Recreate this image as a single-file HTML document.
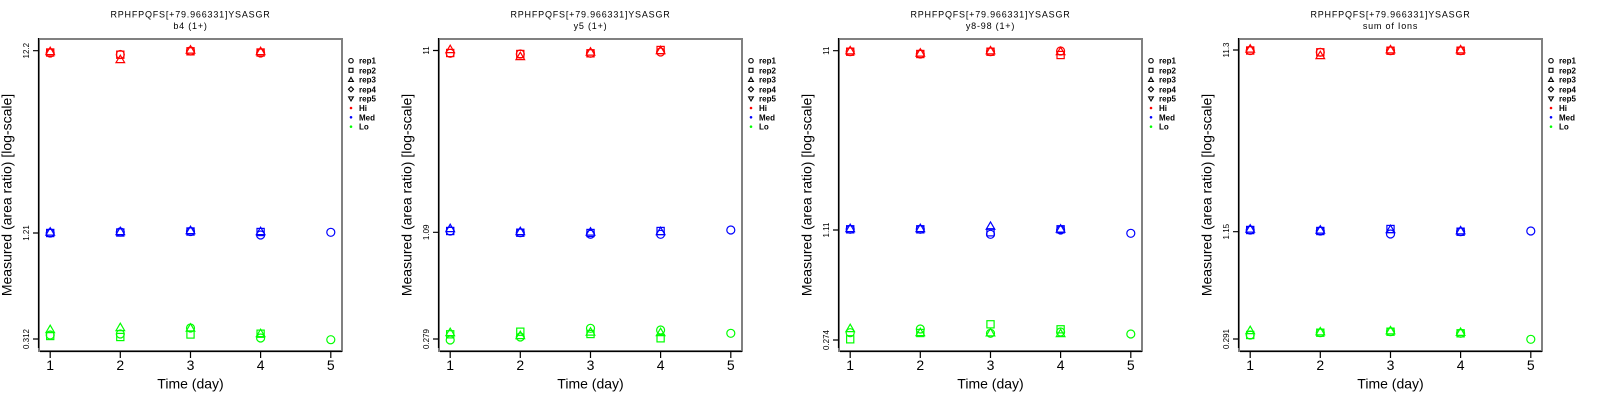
<!DOCTYPE html>
<html><head><meta charset="utf-8"><style>
html,body{margin:0;padding:0;background:#fff;}
svg{display:block;}
.t{font-family:"Liberation Sans",sans-serif;font-size:9px;letter-spacing:0.8px;text-anchor:middle;fill:#000;}
.yt{font-family:"Liberation Sans",sans-serif;font-size:8px;text-anchor:middle;fill:#000;}
.xt{font-family:"Liberation Sans",sans-serif;font-size:14px;text-anchor:middle;fill:#000;}
.xl{font-family:"Liberation Sans",sans-serif;font-size:14px;text-anchor:middle;fill:#000;}
.lg{font-family:"Liberation Sans",sans-serif;font-size:8px;font-weight:bold;fill:#000;}
</style></head><body>
<svg width="1600" height="400" viewBox="0 0 1600 400" xmlns="http://www.w3.org/2000/svg" xmlns:xlink="http://www.w3.org/1999/xlink">
<defs>
<circle id="c" r="4"/>
<rect id="s" x="-3.6" y="-3.6" width="7.2" height="7.2"/>
<path id="t" d="M0,-4.8 L4.3,2.6 L-4.3,2.6 Z"/>
<path id="d" d="M0,-4.6 L4.6,0 L0,4.6 L-4.6,0 Z"/>
<path id="v" d="M0,4.8 L4.3,-2.6 L-4.3,-2.6 Z"/>
<g id="frame">
<rect x="39" y="39" width="303" height="312" fill="none" stroke="#808080" stroke-width="2"/>
<line x1="38.5" y1="38" x2="38.5" y2="348" stroke="#000" stroke-width="1.2"/>
<line x1="40" y1="351.5" x2="342" y2="351.5" stroke="#000" stroke-width="1.2"/>
<path d="M50.2,351.5V358 M120.3,351.5V358 M190.5,351.5V358 M260.6,351.5V358 M330.8,351.5V358" stroke="#000" stroke-width="1.2"/>
<text x="50.2" y="370" class="xt">1</text>
<text x="120.3" y="370" class="xt">2</text>
<text x="190.5" y="370" class="xt">3</text>
<text x="260.6" y="370" class="xt">4</text>
<text x="330.8" y="370" class="xt">5</text>
<text x="190.5" y="388.5" class="xl">Time (day)</text>
<text transform="translate(11.5,195) rotate(-90)" class="xl">Measured (area ratio) [log-scale]</text>
<g fill="none" stroke="#000" stroke-width="2">
<use xlink:href="#c" transform="translate(351,60.7) scale(0.55)"/>
<use xlink:href="#s" transform="translate(351,70.3) scale(0.55)"/>
<use xlink:href="#t" transform="translate(351,80) scale(0.55)"/>
<use xlink:href="#d" transform="translate(351,89.3) scale(0.55)"/>
<use xlink:href="#v" transform="translate(351,98.3) scale(0.55)"/>
</g>
<circle cx="351" cy="108" r="1.3" fill="#ff0000"/>
<circle cx="351" cy="117.3" r="1.3" fill="#0000ff"/>
<circle cx="351" cy="126.7" r="1.3" fill="#00ff00"/>
<text x="359" y="63.7" class="lg">rep1</text>
<text x="359" y="73.3" class="lg">rep2</text>
<text x="359" y="82.3" class="lg">rep3</text>
<text x="359" y="92.3" class="lg">rep4</text>
<text x="359" y="101.7" class="lg">rep5</text>
<text x="359" y="111" class="lg">Hi</text>
<text x="359" y="120.3" class="lg">Med</text>
<text x="359" y="129.7" class="lg">Lo</text>
</g>
</defs>

<!-- Panel 1 -->
<g transform="translate(0,0)">
<use xlink:href="#frame"/>
<text x="190.5" y="17.5" class="t">RPHFPQFS[+79.966331]YSASGR</text>
<text x="190.5" y="29" class="t">b4 (1+)</text>
<path d="M33,50.7H38.5 M33,233H38.5 M33,339H38.5" stroke="#000" stroke-width="1.2"/>
<text transform="translate(29,50.7) rotate(-90)" class="yt">12.2</text>
<text transform="translate(29,233) rotate(-90)" class="yt">1.21</text>
<text transform="translate(29,339) rotate(-90)" class="yt">0.312</text>
<g fill="none" stroke="#ff0000" stroke-width="1.2">
<use xlink:href="#c" x="50.2" y="53"/><use xlink:href="#s" x="50.2" y="52.5"/><use xlink:href="#t" x="50.2" y="52"/>
<use xlink:href="#c" x="120.3" y="54.5"/><use xlink:href="#s" x="120.3" y="54.7"/><use xlink:href="#t" x="120.3" y="60"/>
<use xlink:href="#c" x="190.5" y="51"/><use xlink:href="#s" x="190.5" y="51.3"/><use xlink:href="#t" x="190.5" y="50.5"/>
<use xlink:href="#c" x="260.6" y="53"/><use xlink:href="#s" x="260.6" y="52.5"/><use xlink:href="#t" x="260.6" y="52"/>
</g>
<g fill="none" stroke="#0000ff" stroke-width="1.2">
<use xlink:href="#c" x="50.2" y="233"/><use xlink:href="#s" x="50.2" y="233"/><use xlink:href="#t" x="50.2" y="232.5"/>
<use xlink:href="#c" x="120.3" y="232"/><use xlink:href="#s" x="120.3" y="232.5"/><use xlink:href="#t" x="120.3" y="232"/>
<use xlink:href="#c" x="190.5" y="231.5"/><use xlink:href="#s" x="190.5" y="231.5"/><use xlink:href="#t" x="190.5" y="231"/>
<use xlink:href="#c" x="260.6" y="235"/><use xlink:href="#s" x="260.6" y="232"/><use xlink:href="#t" x="260.6" y="232"/>
<use xlink:href="#c" x="330.8" y="232.3"/>
</g>
<g fill="none" stroke="#00ff00" stroke-width="1.2">
<use xlink:href="#c" x="50.2" y="335"/><use xlink:href="#s" x="50.2" y="336"/><use xlink:href="#t" x="50.2" y="330"/>
<use xlink:href="#c" x="120.3" y="334"/><use xlink:href="#s" x="120.3" y="337"/><use xlink:href="#t" x="120.3" y="328"/>
<use xlink:href="#c" x="190.5" y="328"/><use xlink:href="#s" x="190.5" y="334.5"/><use xlink:href="#t" x="190.5" y="328.5"/>
<use xlink:href="#c" x="260.6" y="338"/><use xlink:href="#s" x="260.6" y="333.7"/><use xlink:href="#t" x="260.6" y="334"/>
<use xlink:href="#c" x="330.8" y="339.7"/>
</g>
</g>

<!-- Panel 2 -->
<g transform="translate(400,0)">
<use xlink:href="#frame"/>
<text x="190.5" y="17.5" class="t">RPHFPQFS[+79.966331]YSASGR</text>
<text x="190.5" y="29" class="t">y5 (1+)</text>
<path d="M33,50.5H38.5 M33,232.3H38.5 M33,339H38.5" stroke="#000" stroke-width="1.2"/>
<text transform="translate(29,50.5) rotate(-90)" class="yt">11</text>
<text transform="translate(29,232.3) rotate(-90)" class="yt">1.09</text>
<text transform="translate(29,339) rotate(-90)" class="yt">0.279</text>
<g fill="none" stroke="#ff0000" stroke-width="1.2">
<use xlink:href="#c" x="50.2" y="53.3"/><use xlink:href="#s" x="50.2" y="53"/><use xlink:href="#t" x="50.2" y="50"/>
<use xlink:href="#c" x="120.3" y="54"/><use xlink:href="#s" x="120.3" y="54"/><use xlink:href="#t" x="120.3" y="57"/>
<use xlink:href="#c" x="190.5" y="53.3"/><use xlink:href="#s" x="190.5" y="53.3"/><use xlink:href="#t" x="190.5" y="52.5"/>
<use xlink:href="#c" x="260.6" y="52"/><use xlink:href="#s" x="260.6" y="50"/><use xlink:href="#t" x="260.6" y="51"/>
</g>
<g fill="none" stroke="#0000ff" stroke-width="1.2">
<use xlink:href="#c" x="50.2" y="231"/><use xlink:href="#s" x="50.2" y="231"/><use xlink:href="#t" x="50.2" y="229"/>
<use xlink:href="#c" x="120.3" y="232.7"/><use xlink:href="#s" x="120.3" y="232.7"/><use xlink:href="#t" x="120.3" y="232"/>
<use xlink:href="#c" x="190.5" y="234.3"/><use xlink:href="#s" x="190.5" y="233"/><use xlink:href="#t" x="190.5" y="232.5"/>
<use xlink:href="#c" x="260.6" y="234.3"/><use xlink:href="#s" x="260.6" y="231"/><use xlink:href="#t" x="260.6" y="232"/>
<use xlink:href="#c" x="330.8" y="230"/>
</g>
<g fill="none" stroke="#00ff00" stroke-width="1.2">
<use xlink:href="#c" x="50.2" y="340"/><use xlink:href="#s" x="50.2" y="334.3"/><use xlink:href="#t" x="50.2" y="333"/>
<use xlink:href="#c" x="120.3" y="337"/><use xlink:href="#s" x="120.3" y="331.7"/><use xlink:href="#t" x="120.3" y="336"/>
<use xlink:href="#c" x="190.5" y="328.3"/><use xlink:href="#s" x="190.5" y="334"/><use xlink:href="#t" x="190.5" y="332.5"/>
<use xlink:href="#c" x="260.6" y="330"/><use xlink:href="#s" x="260.6" y="338.3"/><use xlink:href="#t" x="260.6" y="333"/>
<use xlink:href="#c" x="330.8" y="333.3"/>
</g>
</g>

<!-- Panel 3 -->
<g transform="translate(800,0)">
<use xlink:href="#frame"/>
<text x="190.5" y="17.5" class="t">RPHFPQFS[+79.966331]YSASGR</text>
<text x="190.5" y="29" class="t">y8-98 (1+)</text>
<path d="M33,50.7H38.5 M33,230H38.5 M33,340H38.5" stroke="#000" stroke-width="1.2"/>
<text transform="translate(29,50.7) rotate(-90)" class="yt">11</text>
<text transform="translate(29,230) rotate(-90)" class="yt">1.11</text>
<text transform="translate(29,340) rotate(-90)" class="yt">0.274</text>
<g fill="none" stroke="#ff0000" stroke-width="1.2">
<use xlink:href="#c" x="50.2" y="51.7"/><use xlink:href="#s" x="50.2" y="51.7"/><use xlink:href="#t" x="50.2" y="51.2"/>
<use xlink:href="#c" x="120.3" y="54"/><use xlink:href="#s" x="120.3" y="54"/><use xlink:href="#t" x="120.3" y="53.5"/>
<use xlink:href="#c" x="190.5" y="51.7"/><use xlink:href="#s" x="190.5" y="51.7"/><use xlink:href="#t" x="190.5" y="51.2"/>
<use xlink:href="#c" x="260.6" y="51"/><use xlink:href="#s" x="260.6" y="55"/><use xlink:href="#t" x="260.6" y="52"/>
</g>
<g fill="none" stroke="#0000ff" stroke-width="1.2">
<use xlink:href="#c" x="50.2" y="229.3"/><use xlink:href="#s" x="50.2" y="229.3"/><use xlink:href="#t" x="50.2" y="229"/>
<use xlink:href="#c" x="120.3" y="229.3"/><use xlink:href="#s" x="120.3" y="229.3"/><use xlink:href="#t" x="120.3" y="229"/>
<use xlink:href="#c" x="190.5" y="234.3"/><use xlink:href="#s" x="190.5" y="232.3"/><use xlink:href="#t" x="190.5" y="226.7"/>
<use xlink:href="#c" x="260.6" y="230"/><use xlink:href="#s" x="260.6" y="229.3"/><use xlink:href="#t" x="260.6" y="229.5"/>
<use xlink:href="#c" x="330.8" y="233.3"/>
</g>
<g fill="none" stroke="#00ff00" stroke-width="1.2">
<use xlink:href="#c" x="50.2" y="332.7"/><use xlink:href="#s" x="50.2" y="339.3"/><use xlink:href="#t" x="50.2" y="329"/>
<use xlink:href="#c" x="120.3" y="329"/><use xlink:href="#s" x="120.3" y="333"/><use xlink:href="#t" x="120.3" y="333"/>
<use xlink:href="#c" x="190.5" y="333.3"/><use xlink:href="#s" x="190.5" y="324.3"/><use xlink:href="#t" x="190.5" y="333.3"/>
<use xlink:href="#c" x="260.6" y="332"/><use xlink:href="#s" x="260.6" y="329.3"/><use xlink:href="#t" x="260.6" y="334"/>
<use xlink:href="#c" x="330.8" y="334"/>
</g>
</g>

<!-- Panel 4 -->
<g transform="translate(1200,0)">
<use xlink:href="#frame"/>
<text x="190.5" y="17.5" class="t">RPHFPQFS[+79.966331]YSASGR</text>
<text x="190.5" y="29" class="t">sum of Ions</text>
<path d="M33,50H38.5 M33,231.7H38.5 M33,339H38.5" stroke="#000" stroke-width="1.2"/>
<text transform="translate(29,50) rotate(-90)" class="yt">11.3</text>
<text transform="translate(29,231.7) rotate(-90)" class="yt">1.15</text>
<text transform="translate(29,339) rotate(-90)" class="yt">0.291</text>
<g fill="none" stroke="#ff0000" stroke-width="1.2">
<use xlink:href="#c" x="50.2" y="50.5"/><use xlink:href="#s" x="50.2" y="50.5"/><use xlink:href="#t" x="50.2" y="49.5"/>
<use xlink:href="#c" x="120.3" y="52.3"/><use xlink:href="#s" x="120.3" y="52.3"/><use xlink:href="#t" x="120.3" y="56"/>
<use xlink:href="#c" x="190.5" y="50.7"/><use xlink:href="#s" x="190.5" y="50.7"/><use xlink:href="#t" x="190.5" y="50.2"/>
<use xlink:href="#c" x="260.6" y="50.7"/><use xlink:href="#s" x="260.6" y="50.7"/><use xlink:href="#t" x="260.6" y="50.2"/>
</g>
<g fill="none" stroke="#0000ff" stroke-width="1.2">
<use xlink:href="#c" x="50.2" y="230"/><use xlink:href="#s" x="50.2" y="230"/><use xlink:href="#t" x="50.2" y="229.5"/>
<use xlink:href="#c" x="120.3" y="231"/><use xlink:href="#s" x="120.3" y="231"/><use xlink:href="#t" x="120.3" y="230.5"/>
<use xlink:href="#c" x="190.5" y="234"/><use xlink:href="#s" x="190.5" y="229"/><use xlink:href="#t" x="190.5" y="230"/>
<use xlink:href="#c" x="260.6" y="231.7"/><use xlink:href="#s" x="260.6" y="231.7"/><use xlink:href="#t" x="260.6" y="231.2"/>
<use xlink:href="#c" x="330.8" y="231"/>
</g>
<g fill="none" stroke="#00ff00" stroke-width="1.2">
<use xlink:href="#c" x="50.2" y="335"/><use xlink:href="#s" x="50.2" y="335"/><use xlink:href="#t" x="50.2" y="331"/>
<use xlink:href="#c" x="120.3" y="332.7"/><use xlink:href="#s" x="120.3" y="332.7"/><use xlink:href="#t" x="120.3" y="332.2"/>
<use xlink:href="#c" x="190.5" y="331.7"/><use xlink:href="#s" x="190.5" y="331.7"/><use xlink:href="#t" x="190.5" y="331.2"/>
<use xlink:href="#c" x="260.6" y="333.3"/><use xlink:href="#s" x="260.6" y="333.3"/><use xlink:href="#t" x="260.6" y="332.8"/>
<use xlink:href="#c" x="330.8" y="339.3"/>
</g>
</g>
</svg>
</body></html>
